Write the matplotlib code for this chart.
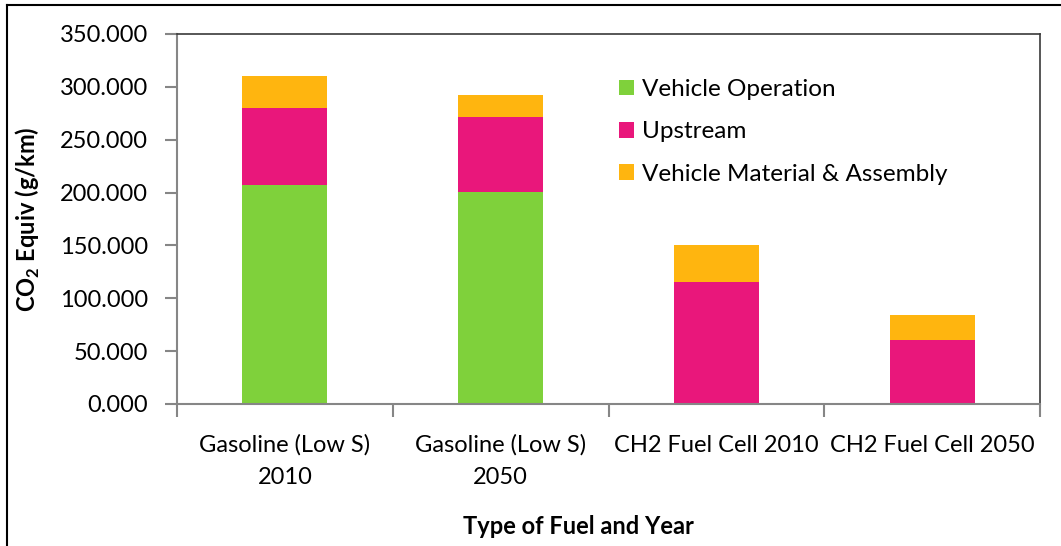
import numpy as np
import matplotlib
matplotlib.use("Agg")
import matplotlib.pyplot as plt
from matplotlib.lines import Line2D
from matplotlib.patches import Patch


# ==============================
# DATA
# ==============================

categories = ["Gasoline (Low S)\n2010", "Gasoline (Low S)\n2050",
              "CH2 Fuel Cell 2010", "CH2 Fuel Cell 2050"]
vehicle_operation = [207.0, 201.0, 0.0, 0.0]
upstream = [73.0, 70.5, 115.5, 61.0]
material_assembly = [30.0, 21.0, 35.0, 23.0]

series_names = ["Vehicle Operation", "Upstream", "Vehicle Material & Assembly"]
colors = ["#7fd13b", "#e9177b", "#ffb50f"]

W, H = 1061, 546
FONT = "Lato"
FS = 17


def px_x(x):
    return x / W


def px_y(y):
    return 1 - y / H


# ==============================
# PLOT
# ==============================

def main():
    plt.rcParams["font.family"] = [FONT, "DejaVu Sans"]

    fig = plt.figure(figsize=(W / 100, H / 100), dpi=100)
    ax = fig.add_axes([px_x(177), px_y(404), (1040 - 177) / W, (404 - 34) / H])

    x = np.arange(len(categories))
    width = 0.395

    bottom = np.zeros(len(categories))
    for vals, name, col in zip([vehicle_operation, upstream, material_assembly],
                               series_names, colors):
        vals = np.array(vals)
        ax.bar(x, vals, width, bottom=bottom, color=col, label=name,
               edgecolor="none", zorder=2)
        bottom += vals

    ax.set_xlim(-0.5, len(categories) - 0.5)
    ax.set_ylim(0, 350)

    yt = np.arange(0, 351, 50)
    ax.set_yticks(yt)
    ax.set_yticklabels([f"{v:.3f}" for v in yt], fontsize=FS)
    ax.tick_params(axis="y", direction="out", length=9, width=1.5,
                   color="#868686", pad=12)

    ax.set_xticks(x)
    ax.set_xticklabels(categories, fontsize=FS, linespacing=1.65)
    ax.set_xticks(np.arange(-0.5, len(categories), 1.0), minor=True)
    ax.tick_params(axis="x", which="major", length=0, pad=22)
    ax.tick_params(axis="x", which="minor", direction="out", length=9,
                   width=1.5, color="#868686")

    for side in ["left", "bottom"]:
        ax.spines[side].set_color("#868686")
        ax.spines[side].set_linewidth(1.5)
    for side in ["top", "right"]:
        ax.spines[side].set_color("#3a3a3a")
        ax.spines[side].set_linewidth(1.2)

    fig.text(px_x(28), px_y(219), r"CO$_\mathregular{2}$ Equiv (g/km)",
             fontsize=FS, fontweight="bold", rotation=90,
             ha="center", va="center")

    fig.text(px_x(578), px_y(527), "Type of Fuel and Year", fontsize=FS,
             fontweight="bold", ha="center", va="center")

    handles = [Patch(facecolor=c, edgecolor="none") for c in colors]
    ax.legend(handles, series_names, loc="upper left",
              bbox_to_anchor=(px_x(619), px_y(79)),
              bbox_transform=fig.transFigure, frameon=False, fontsize=17.5,
              handlelength=0.6, handleheight=0.6, handletextpad=0.35,
              labelspacing=0.88, borderpad=0, borderaxespad=0)

    # chart area border (cropped on the right and bottom)
    fig.add_artist(Line2D([px_x(7), px_x(7)], [0, px_y(5)],
                          transform=fig.transFigure, color="black", lw=1.5))
    fig.add_artist(Line2D([px_x(7), 1], [px_y(5), px_y(5)],
                          transform=fig.transFigure, color="black", lw=1.5))

    fig.savefig("out.png", dpi=100)


if __name__ == "__main__":
    main()
